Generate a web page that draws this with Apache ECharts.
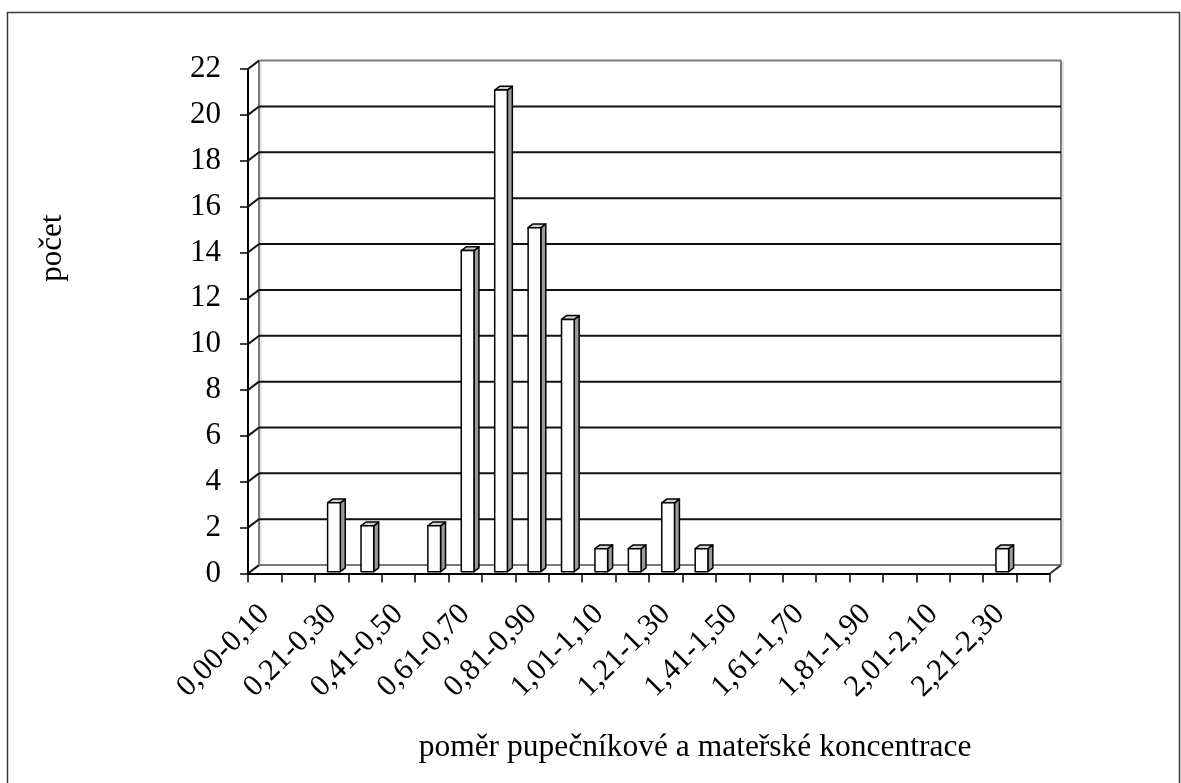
<!DOCTYPE html>
<html>
<head>
<meta charset="utf-8">
<script src="https://cdn.jsdelivr.net/npm/echarts@6/dist/echarts.min.js"></script>
<style>
  html, body { margin: 0; padding: 0; background: #fff; }
  #chart { width: 1181px; height: 783px; }
</style>
</head>
<body>
<div id="chart"></div>
<script>
// Ratio classes of umbilical to maternal concentration
const categories = [
  '0,00-0,10', '0,11-0,20', '0,21-0,30', '0,31-0,40', '0,41-0,50', '0,51-0,60',
  '0,61-0,70', '0,71-0,80', '0,81-0,90', '0,91-1,00', '1,01-1,10', '1,11-1,20',
  '1,21-1,30', '1,31-1,40', '1,41-1,50', '1,51-1,60', '1,61-1,70', '1,71-1,80',
  '1,81-1,90', '1,91-2,00', '2,01-2,10', '2,11-2,20', '2,21-2,30', '2,31-2,40'
];
// Count of cases in each class
const counts = [0, 0, 3, 2, 0, 2, 14, 21, 15, 11, 1, 1, 3, 1, 0, 0, 0, 0, 0, 0, 0, 0, 1, 0];
// Value-axis ticks
const yTicks = [0, 2, 4, 6, 8, 10, 12, 14, 16, 18, 20, 22];

const FONT = "'Liberation Serif', 'Times New Roman', serif";
// Depth of the pseudo-3D box (back wall shift)
const DX = 11, DY = -8.4;

const chart = echarts.init(document.getElementById('chart'));

// Back wall, side wall and floor with the gridlines drawn on them
function renderWalls(params, api) {
  const cs = params.coordSys;
  const v = api.value(0);
  const y = api.coord([0, v])[1];
  const x0 = cs.x, x1 = cs.x + cs.width;
  const children = [];
  const isEdge = (v === yTicks[0] || v === yTicks[yTicks.length - 1]);
  const col = isEdge ? '#7a7a7a' : '#111';
  children.push({ type: 'line', shape: { x1: x0, y1: y, x2: x0 + DX, y2: y + DY },
    style: { stroke: '#111', lineWidth: 2 } });
  children.push({ type: 'line', shape: { x1: x0 + DX, y1: y + DY, x2: x1 + DX, y2: y + DY },
    style: { stroke: col, lineWidth: 2 } });
  if (v === yTicks[0]) {
    const yTop = api.coord([0, yTicks[yTicks.length - 1]])[1];
    // floor right edge
    children.push({ type: 'line', shape: { x1: x1, y1: y, x2: x1 + DX, y2: y + DY },
      style: { stroke: '#333', lineWidth: 2 } });
    // back wall vertical edges
    children.push({ type: 'line', shape: { x1: x0 + DX, y1: y + DY, x2: x0 + DX, y2: yTop + DY },
      style: { stroke: '#7a7a7a', lineWidth: 2 } });
    children.push({ type: 'line', shape: { x1: x0 + DX + 2, y1: y + DY - 1, x2: x0 + DX + 2, y2: yTop + DY + 1 },
      style: { stroke: '#d0d0d0', lineWidth: 1 } });
    children.push({ type: 'line', shape: { x1: x1 + DX, y1: y + DY, x2: x1 + DX, y2: yTop + DY },
      style: { stroke: '#7a7a7a', lineWidth: 2 } });
    children.push({ type: 'line', shape: { x1: x1 + DX + 2, y1: y + DY, x2: x1 + DX + 2, y2: yTop + DY },
      style: { stroke: '#c8c8c8', lineWidth: 1 } });
  }
  return { type: 'group', children };
}

// Box-shaped bars: white front, grey side, light top
function renderBar(params, api) {
  const i = api.value(0);
  const v = api.value(1);
  if (!v) return null;
  const top = api.coord([i, v]);
  const base = api.coord([i, 0]);
  const band = api.size([1, 0])[0];
  const w = band * 0.38;
  const off = 0.22;            // depth position of the bar front
  const dep = 0.45;            // depth of the bar
  const cx = top[0] + DX * off;
  const xl = cx - w / 2, xr = cx + w / 2;
  const yb = base[1] + DY * off;
  const yt = top[1] + DY * off;
  const ddx = DX * dep, ddy = DY * dep;
  const stroke = { stroke: '#000', lineWidth: 1.5, lineJoin: 'round' };
  return {
    type: 'group',
    children: [
      { type: 'polygon', shape: { points: [[xr, yb], [xr + ddx, yb + ddy], [xr + ddx, yt + ddy], [xr, yt]] },
        style: Object.assign({ fill: '#9a9a9a' }, stroke) },
      { type: 'polygon', shape: { points: [[xl, yt], [xr, yt], [xr + ddx, yt + ddy], [xl + ddx, yt + ddy]] },
        style: Object.assign({ fill: '#cfcfcf' }, stroke) },
      { type: 'rect', shape: { x: xl, y: yt, width: w, height: yb - yt },
        style: Object.assign({ fill: '#fff' }, stroke) }
    ]
  };
}

chart.setOption({
  animation: false,
  backgroundColor: '#fff',
  textStyle: { fontFamily: FONT },
  graphic: [{
    type: 'rect', silent: true,
    shape: { x: 7.5, y: 12.5, width: 1172, height: 820 },
    style: { fill: 'none', stroke: '#3a3a3a', lineWidth: 1.5 }
  }],
  grid: { left: 248, right: 131, top: 69, bottom: 209.5, containLabel: false },
  xAxis: {
    type: 'category',
    data: categories,
    boundaryGap: true,
    name: 'poměr pupečníkové a mateřské koncentrace',
    nameLocation: 'middle',
    nameGap: 158,
    nameTextStyle: { fontFamily: FONT, fontSize: 31.5, color: '#000', padding: [0, 0, 0, 92] },
    axisLine: { show: true, lineStyle: { color: '#000', width: 2 } },
    axisTick: { show: true, interval: 0, length: 9, lineStyle: { color: '#000', width: 1.5 } },
    axisLabel: { interval: 1, rotate: 45, margin: 36, fontFamily: FONT, fontSize: 30.5, color: '#000' },
    splitLine: { show: false }
  },
  yAxis: {
    type: 'value',
    min: 0, max: 22, interval: 2,
    name: 'počet',
    nameLocation: 'middle',
    nameGap: 180,
    nameRotate: 90,
    nameTextStyle: { fontFamily: FONT, fontSize: 31, color: '#000', padding: [0, 0, 0, 146] },
    axisLine: { show: true, lineStyle: { color: '#000', width: 2 } },
    axisTick: { show: true, length: 8, lineStyle: { color: '#000', width: 1.5 } },
    axisLabel: { margin: 27, fontFamily: FONT, fontSize: 31, color: '#000' },
    splitLine: { show: false }
  },
  series: [
    {
      type: 'custom',
      name: 'walls',
      renderItem: renderWalls,
      data: yTicks.map(t => [t]),
      encode: { y: 0 },
      silent: true,
      z: 1
    },
    {
      type: 'custom',
      name: 'počet',
      renderItem: renderBar,
      data: counts.map((c, i) => [i, c]),
      encode: { x: 0, y: 1 },
      z: 3
    }
  ]
});
</script>
</body>
</html>
